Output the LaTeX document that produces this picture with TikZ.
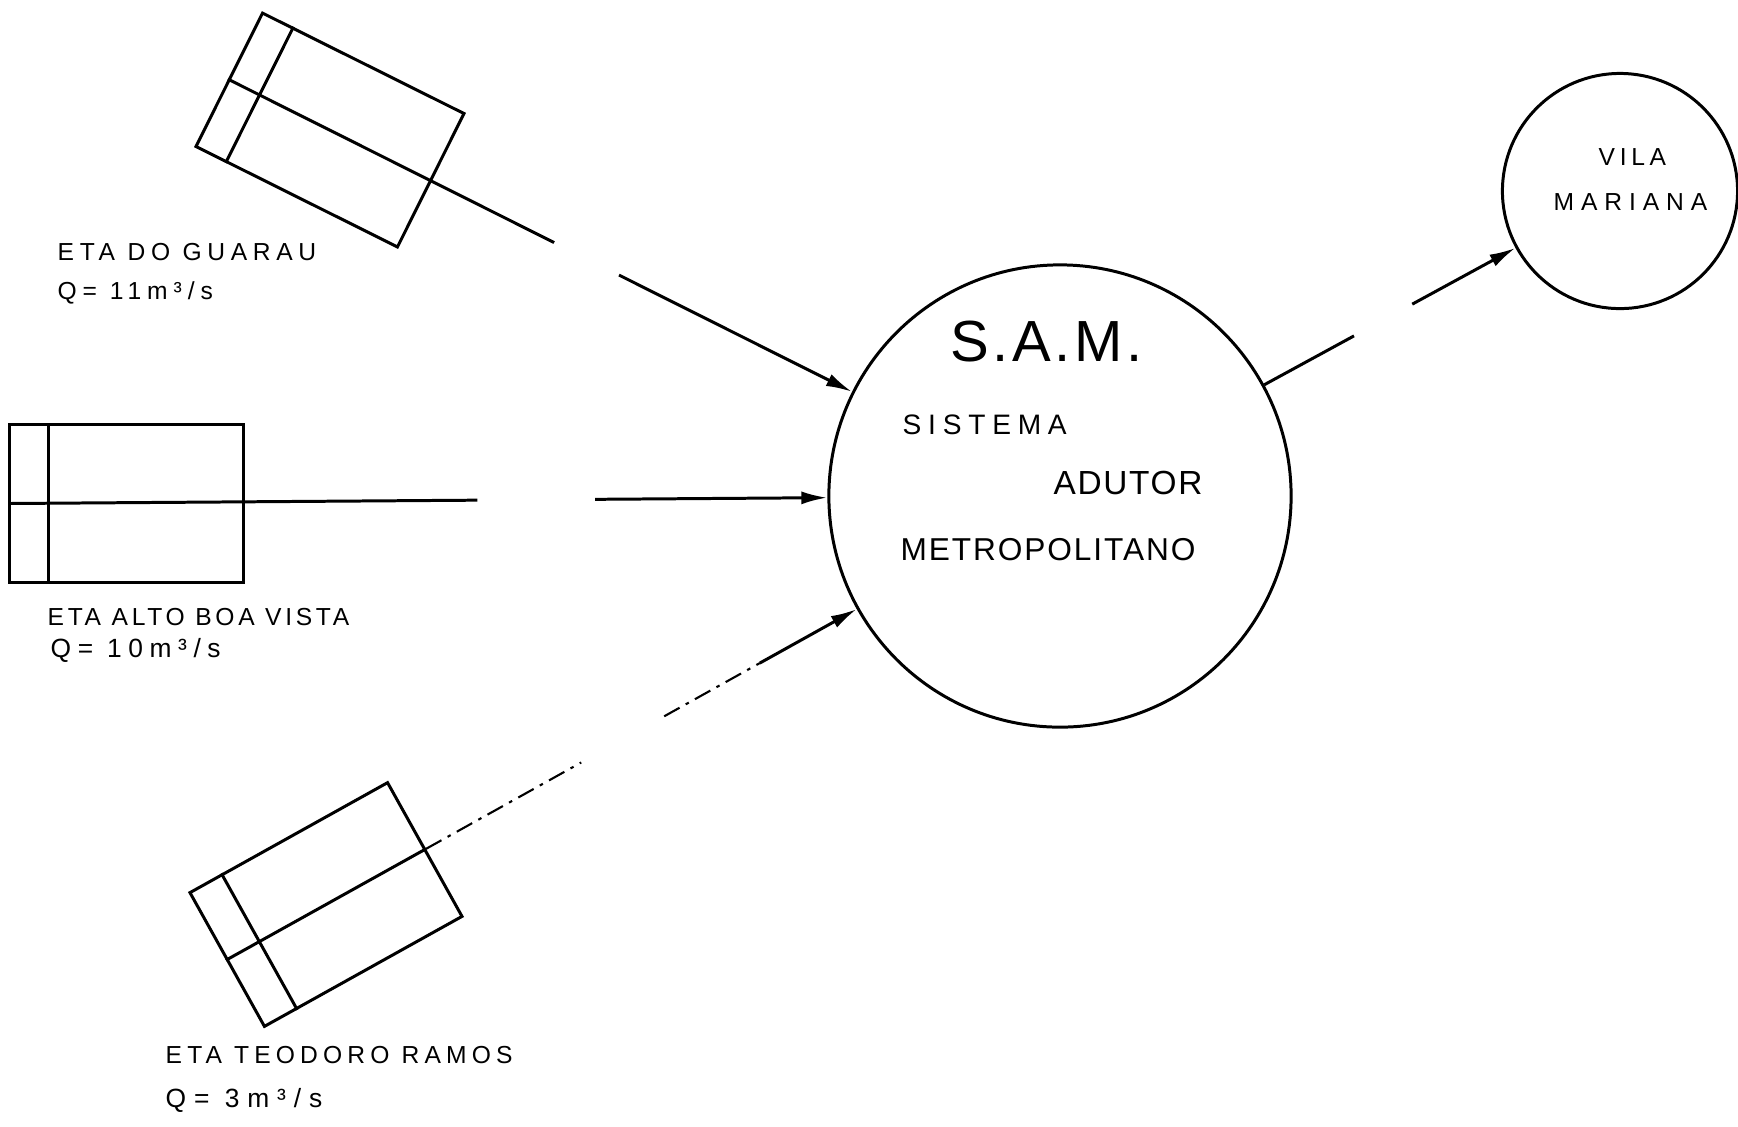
\documentclass[tikz,border=0pt]{standalone}
\usepackage{fontspec}
\setmainfont{Liberation Sans}
\newfontfamily\hand{Liberation Sans}
\usetikzlibrary{arrows.meta,calc}
% hand-lettering look: size and letter spacing
\newcommand\handfont[2]{\hand\fontsize{#1}{#1}\selectfont\addfontfeature{LetterSpace=#2}}

\begin{document}
\begin{tikzpicture}[x=0.01cm,y=-0.01cm,
  pen/.style={line width=0.85pt},
  tank/.style={draw,pen,rectangle,inner sep=0pt},
  place/.style={draw,pen,circle,inner sep=0pt},
  flow/.style={pen,-{Latex[length=0.26cm,width=0.13cm]}},
  faint/.style={line width=0.6pt,dash pattern=on 5pt off 2pt on 1pt off 2pt},
  lbl/.style={anchor=west,inner sep=0pt}
]
\useasboundingbox (0,0) rectangle (1738,1126);

% treatment plants
\node[tank,rotate=-26.5,minimum width=2.25cm,minimum height=1.49cm] (guarau) at (330,130) {};
\node[tank,minimum width=2.33cm,minimum height=1.57cm] (bv) at (126.5,503.5) {};
\node[tank,rotate=29.1,minimum width=2.26cm,minimum height=1.53cm] (tr) at (326,904.5) {};

\draw[pen] ($(guarau.north west)!0.155!(guarau.north east)$) -- ($(guarau.south west)!0.155!(guarau.south east)$);
\draw[pen] ($(bv.north west)!0.17!(bv.north east)$) -- ($(bv.south west)!0.17!(bv.south east)$);
\draw[pen] ($(tr.north west)!0.167!(tr.north east)$) -- ($(tr.south west)!0.167!(tr.south east)$);

% main system and destination
\node[place,minimum size=4.62cm] (sam) at (1060,496) {};
\node[place,minimum size=2.35cm] (vm) at (1620,191) {};

% break points of the mains
\coordinate (ga) at ($(guarau.west)!0.392!(sam.center)$);
\coordinate (gb) at ($(guarau.west)!0.470!(sam.center)$);
\coordinate (ba) at ($(bv.west)!0.446!(sam.center)$);
\coordinate (bb) at ($(bv.west)!0.558!(sam.center)$);
\coordinate (ta) at ($(tr.west)!0.426!(sam.center)$);
\coordinate (tb) at ($(tr.west)!0.5255!(sam.center)$);
\coordinate (tc) at ($(tr.west)!0.64!(sam.center)$);
\coordinate (sa) at ($(sam.center)!0.525!(vm.center)$);
\coordinate (sb) at ($(sam.center)!0.629!(vm.center)$);

% mains
\draw[pen] (guarau.west) -- (ga);
\draw[flow] (gb) -- (sam);
\draw[pen] (bv.west) -- (ba);
\draw[flow] (bb) -- (sam);
\draw[pen] (tr.west) -- (tr.east);
\draw[faint] (tr.east) -- (ta);
\draw[faint] (tb) -- (tc);
\draw[flow] (tc) -- (sam);
\draw[pen] (sam) -- (sa);
\draw[flow] (sb) -- (vm);

% labels
\node[lbl,font=\handfont{7}{23}] (lg1) at (57,252) {ETA DO GUARAU};
\node[lbl,font=\handfont{7}{24}] (lg2) at (57,293) {Q= 11m³/s};
\node[lbl,font=\handfont{7}{15}] (lb1) at (47,617) {ETA ALTO BOA VISTA};
\node[lbl,font=\handfont{7.5}{25}] (lb2) at (50,650) {Q= 10m³/s};
\node[lbl,font=\handfont{7}{21}] (lt1) at (165,1055) {ETA TEODORO RAMOS};
\node[lbl,font=\handfont{7.5}{30}] (lt2) at (165,1100) {Q= 3m³/s};

\node[lbl,font=\handfont{16.5}{6}] (s1) at (950,342) {S.A.M.};
\node[lbl,font=\handfont{8}{24}] (s2) at (902,425) {SISTEMA};
\node[lbl,font=\handfont{9.5}{5}] (s3) at (1053,483) {ADUTOR};
\node[lbl,font=\handfont{9}{6}] (s4) at (900,550) {METROPOLITANO};

\node[lbl,font=\handfont{7}{19}] (v1) at (1598,157) {VILA};
\node[lbl,font=\handfont{7}{28}] (v2) at (1553,202) {MARIANA};
\end{tikzpicture}
\end{document}
